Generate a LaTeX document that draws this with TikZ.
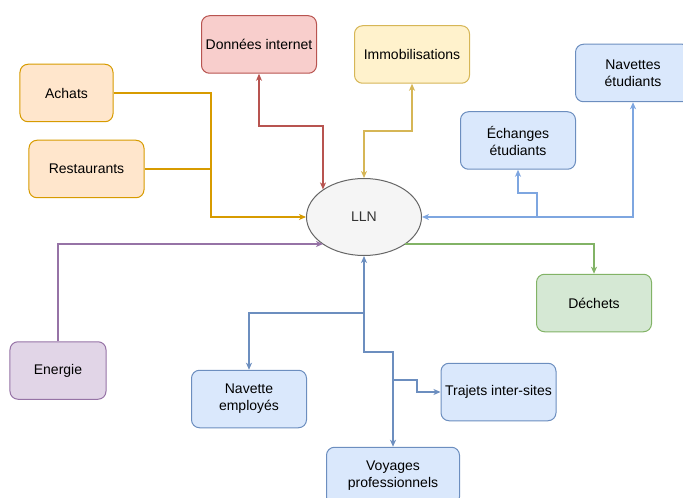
\documentclass[tikz,border=0pt]{standalone}
\usepackage{fontspec}
\setmainfont{Liberation Sans}
\usetikzlibrary{arrows.meta,shapes.geometric}
\definecolor{redF}{HTML}{F8CECC}\definecolor{redS}{HTML}{B85450}
\definecolor{yelF}{HTML}{FFF2CC}\definecolor{yelS}{HTML}{D6B656}
\definecolor{oraF}{HTML}{FFE6CC}\definecolor{oraS}{HTML}{D79B00}
\definecolor{bluF}{HTML}{DAE8FC}\definecolor{bluS}{HTML}{6C8EBF}\definecolor{bluL}{HTML}{7EA6E0}
\definecolor{grnF}{HTML}{D5E8D4}\definecolor{grnS}{HTML}{82B366}
\definecolor{purF}{HTML}{E1D5E7}\definecolor{purS}{HTML}{9673A6}
\definecolor{gryF}{HTML}{F5F5F5}\definecolor{gryS}{HTML}{666666}\definecolor{txtG}{HTML}{333333}
\tikzset{
  box/.style={draw, rounded corners=8bp, line width=1bp, minimum width=115bp, minimum height=57.5bp,
    align=center, inner sep=1bp, font=\fontsize{14bp}{17bp}\selectfont, text=black},
  redbox/.style={box, fill=redF, draw=redS},
  yelbox/.style={box, fill=yelF, draw=yelS},
  orabox/.style={box, fill=oraF, draw=oraS},
  blubox/.style={box, fill=bluF, draw=bluS},
  grnbox/.style={box, fill=grnF, draw=grnS},
  purbox/.style={box, fill=purF, draw=purS},
  conn/.style={line width=1.15bp, >={Stealth[length=7bp,width=6bp,inset=2bp]}},
}
\begin{document}
\begin{tikzpicture}[x=1bp,y=-1bp]
\useasboundingbox (0,0) rectangle (683,498);
\begin{scope}
\clip (0,0) rectangle (683,498);
% nodes
\node[redbox] (don) at (259,44.5) {Données internet};
\node[yelbox] (imm) at (412,54.5) {Immobilisations};
\node[blubox] (navet) at (633,73) {Navettes\\étudiants};
\node[orabox, minimum width=93bp] (ach) at (66.5,93) {Achats};
\node[orabox] (res) at (86.5,169) {Restaurants};
\node[blubox] (ech) at (518,140.5) {Échanges\\étudiants};
\node[draw=gryS, fill=gryF, ellipse, line width=1bp, minimum width=115bp, minimum height=77bp,
      inner sep=0pt, font=\fontsize{14bp}{17bp}\selectfont, text=txtG] (lln) at (364,217) {LLN};
\node[grnbox] (dec) at (594,303) {Déchets};
\node[purbox, minimum width=96bp] (ene) at (58,370.5) {Energie};
\node[blubox] (navem) at (249,399) {Navette\\employés};
\node[blubox] (traj) at (498.5,392) {Trajets inter-sites};
\node[blubox, minimum width=133bp] (voy) at (393,476) {Voyages\\professionnels};
% junction / bend coordinates
\coordinate (jo) at (211,217);
\coordinate (je) at (537,217);
\coordinate (jr) at (259,126);
\coordinate (jy) at (412,131);
\coordinate (jec) at (537,193);
\coordinate (jp) at (58,244);
\coordinate (jg) at (594,244);
\coordinate (jb1) at (364,313);
\coordinate (jb3) at (364,352);
\coordinate (jb2) at (393,380);
\coordinate (jt) at (417,380);
% orange
\draw[conn, draw=oraS, ->] (ach.east) -| (jo) -- (lln.west);
\draw[conn, draw=oraS] (res.east) -- (res.east -| jo);
% red
\draw[conn, draw=redS, <->] (don.south) -- (jr) -| (lln.north west);
% yellow
\draw[conn, draw=yelS, <->] (imm.south) -- (jy) -| (lln.north);
% blue right
\draw[conn, draw=bluL, <->] (navet.south) |- (lln.east);
\draw[conn, draw=bluL, ->] (je) -- (jec) -| (ech.south);
% purple
\draw[conn, draw=purS, ->] (ene.north) -- (jp) -- (jp -| lln.south west);
% green
\draw[conn, draw=grnS, ->] (jg -| lln.south east) -- (jg) -- (dec.north);
% blue bottom
\draw[conn, draw=bluS, <->] (lln.south) -- (jb1) -| (navem.north);
\draw[conn, draw=bluS, ->] (jb1) -- (jb3) -| (voy.north);
\draw[conn, draw=bluS, ->] (jb2) -- (jt) |- (traj.west);
\end{scope}
\end{tikzpicture}
\end{document}
